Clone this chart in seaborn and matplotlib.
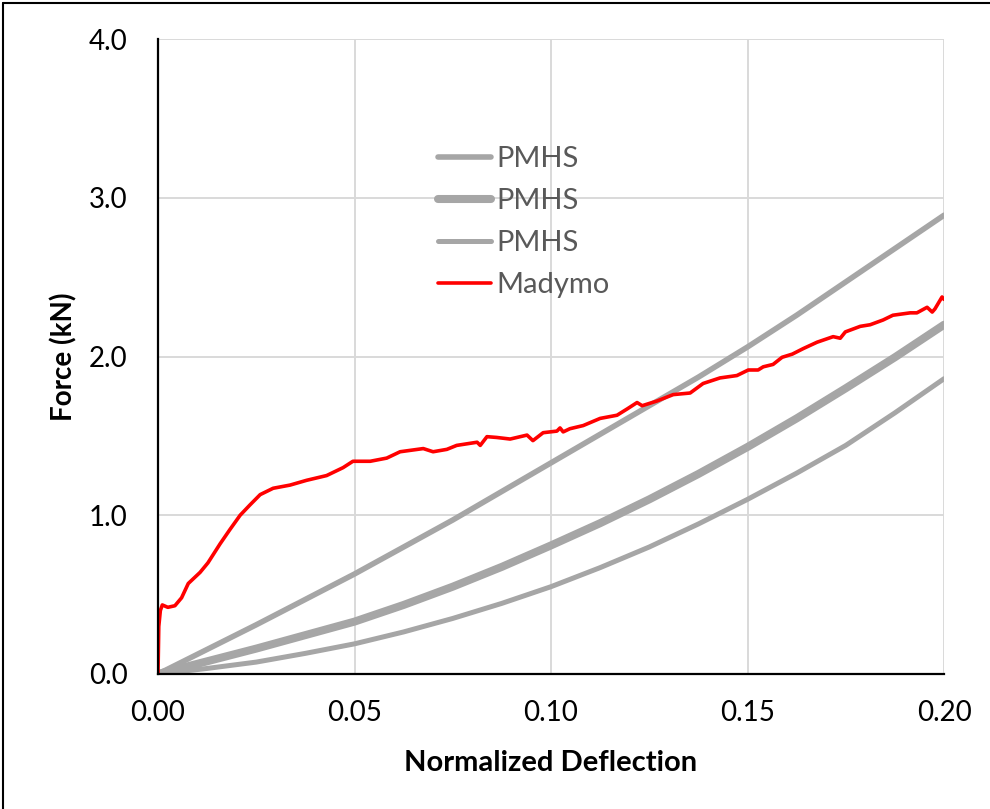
import numpy as np
import pandas as pd
import matplotlib
matplotlib.use("Agg")
import matplotlib.pyplot as plt
import seaborn as sns
from matplotlib.lines import Line2D

# ---- data ----
pmhs_x = [0.0, 0.0125, 0.025, 0.0375, 0.05, 0.0625, 0.075, 0.0875, 0.10, 0.1125,
          0.125, 0.1375, 0.15, 0.1625, 0.175, 0.1875, 0.20]
pmhs1_y = [0.0, 0.155, 0.31, 0.47, 0.63, 0.80, 0.97, 1.15, 1.33, 1.51,
           1.69, 1.87, 2.06, 2.26, 2.47, 2.68, 2.89]
pmhs2_y = [0.0, 0.08, 0.16, 0.245, 0.33, 0.435, 0.55, 0.675, 0.81, 0.95,
           1.10, 1.26, 1.43, 1.61, 1.80, 1.995, 2.20]
pmhs3_y = [0.0, 0.035, 0.075, 0.13, 0.19, 0.265, 0.35, 0.445, 0.55, 0.67,
           0.80, 0.945, 1.10, 1.265, 1.44, 1.645, 1.86]

madymo_x = [0.0, 0.0002, 0.0006, 0.0011, 0.0025, 0.0043, 0.006, 0.0077, 0.0107, 0.0127,
            0.0158, 0.0183, 0.0209, 0.0234, 0.026, 0.0293, 0.0336, 0.0378, 0.0429,
            0.0471, 0.0496, 0.054, 0.0582, 0.0616, 0.0675, 0.07, 0.0735, 0.076,
            0.0812, 0.082, 0.0837, 0.0862, 0.0896, 0.0939, 0.0954, 0.098, 0.1015,
            0.1023, 0.1031, 0.1048, 0.1082, 0.1125, 0.1168, 0.1194, 0.1219, 0.1232,
            0.127, 0.1311, 0.1354, 0.1387, 0.143, 0.1473, 0.1502, 0.1527, 0.154,
            0.1565, 0.1588, 0.1614, 0.1642, 0.1677, 0.1718, 0.1736, 0.1749, 0.1787,
            0.1812, 0.1845, 0.187, 0.1914, 0.1931, 0.1957, 0.197, 0.1977, 0.1995, 0.2]
madymo_y = [0.0, 0.30, 0.40, 0.435, 0.42, 0.43, 0.48, 0.57, 0.64, 0.70,
            0.82, 0.91, 1.00, 1.065, 1.13, 1.17, 1.19, 1.22, 1.25,
            1.30, 1.34, 1.34, 1.36, 1.40, 1.42, 1.40, 1.415, 1.44,
            1.46, 1.44, 1.495, 1.49, 1.48, 1.505, 1.47, 1.52, 1.53,
            1.55, 1.525, 1.545, 1.565, 1.61, 1.63, 1.67, 1.71, 1.69,
            1.72, 1.76, 1.77, 1.83, 1.865, 1.88, 1.915, 1.915, 1.935,
            1.95, 1.995, 2.015, 2.05, 2.09, 2.125, 2.115, 2.155, 2.19,
            2.20, 2.23, 2.26, 2.275, 2.275, 2.31, 2.28, 2.30, 2.375, 2.36]

x_ticks = [0.00, 0.05, 0.10, 0.15, 0.20]
y_ticks = [0.0, 1.0, 2.0, 3.0, 4.0]
series_labels = ["PMHS", "PMHS", "PMHS", "Madymo"]

sns.set_theme(style="white")
plt.rcParams['font.family'] = ['Lato', 'DejaVu Sans']

fig = plt.figure(figsize=(9.9, 8.09), dpi=100)
ax = fig.add_axes([158/990, 1-674/809, (944-158)/990, (674-39)/809])

gray = "#a6a6a6"
df1 = pd.DataFrame({"x": pmhs_x, "y": pmhs1_y})
df2 = pd.DataFrame({"x": pmhs_x, "y": pmhs2_y})
df3 = pd.DataFrame({"x": pmhs_x, "y": pmhs3_y})
dfm = pd.DataFrame({"x": madymo_x, "y": madymo_y})

lw = [4.0, 5.8, 3.6, 2.6]
sns.lineplot(data=df1, x="x", y="y", ax=ax, color=gray, lw=lw[0], sort=False, zorder=3)
sns.lineplot(data=df2, x="x", y="y", ax=ax, color=gray, lw=lw[1], sort=False, zorder=3)
sns.lineplot(data=df3, x="x", y="y", ax=ax, color=gray, lw=lw[2], sort=False, zorder=3)
sns.lineplot(data=dfm, x="x", y="y", ax=ax, color="#ff0000", lw=lw[3], sort=False, zorder=4)

ax.set_xlim(0, 0.20)
ax.set_ylim(0, 4.0)
ax.set_xticks(x_ticks)
ax.set_yticks(y_ticks)
ax.set_xticklabels([f"{v:.2f}" for v in x_ticks], fontsize=20, color="black")
ax.set_yticklabels([f"{v:.1f}" for v in y_ticks], fontsize=20, color="black")
ax.tick_params(axis="both", length=0)
ax.tick_params(axis="x", pad=19)
ax.tick_params(axis="y", pad=22)

ax.grid(True, color="#d9d9d9", lw=1.4)
ax.set_axisbelow(True)
for s in ["top", "right"]:
    ax.spines[s].set_visible(False)
for s in ["left", "bottom"]:
    ax.spines[s].set_color("black")
    ax.spines[s].set_linewidth(1.6)
    ax.spines[s].set_zorder(5)

ax.set_xlabel("Normalized Deflection", fontsize=21, fontweight="bold", color="black", labelpad=17)
ax.set_ylabel("Force (kN)", fontsize=20, fontweight="bold", color="black", labelpad=8)

handles = [Line2D([0], [0], color=gray, lw=lw[0], solid_capstyle="round"),
           Line2D([0], [0], color=gray, lw=lw[1], solid_capstyle="round"),
           Line2D([0], [0], color=gray, lw=lw[2], solid_capstyle="round"),
           Line2D([0], [0], color="#ff0000", lw=lw[3])]
leg = ax.legend(handles, series_labels, loc="upper left",
                bbox_to_anchor=(438/990, 1-146/809), bbox_transform=fig.transFigure,
                frameon=False, fontsize=21, handlelength=1.8, handletextpad=0.2,
                labelspacing=0.55, borderpad=0, borderaxespad=0)
for t in leg.get_texts():
    t.set_color("#595959")

# figure border (left and top edges)
fig.add_artist(Line2D([3/990, 3/990], [0, 1-3/809], transform=fig.transFigure, color="black", lw=1.5))
fig.add_artist(Line2D([3/990, 1], [1-3/809, 1-3/809], transform=fig.transFigure, color="black", lw=1.5))

fig.savefig("out.png", dpi=100)
